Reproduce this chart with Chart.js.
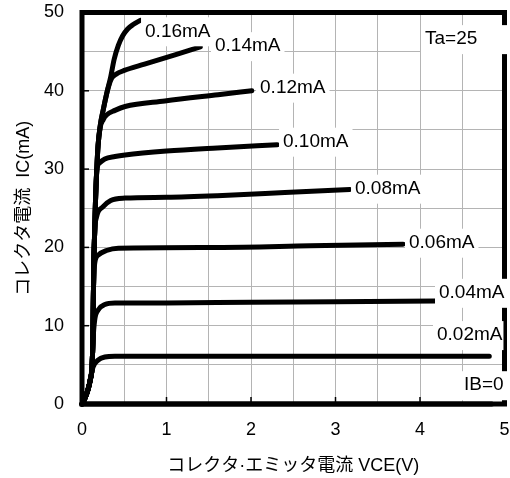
<!DOCTYPE html>
<html>
<head>
<meta charset="utf-8">
<script src="https://cdn.jsdelivr.net/npm/chart.js@4.4.1/dist/chart.umd.min.js"></script>
<style>
  html, body { margin: 0; padding: 0; background: #fff; }
  #wrap { width: 510px; height: 478px; position: relative; }
</style>
</head>
<body>
<div id="wrap"><canvas id="c" width="510" height="478"></canvas></div>
<script>
// ---- data ----
const xTitle = 'コレクタ·エミッタ電流 VCE(V)';
const yTitle = 'コレクタ電流  IC(mA)';
const seriesNames = ['IB=0', '0.02mA', '0.04mA', '0.06mA', '0.08mA', '0.10mA', '0.12mA', '0.14mA', '0.16mA'];
const xTickLabels = ['0', '1', '2', '3', '4', '5'];
const yTickLabels = ['0', '10', '20', '30', '40', '50'];
const noteText = 'Ta=25';

const vce000 = [0, 4.85];
const ic000  = [0, 0];

const vce002 = [0, 0.03, 0.07, 0.10, 0.13, 0.19, 0.27, 0.39, 1.0, 2.0, 3.0, 4.0, 4.82];
const ic002  = [0, 0.6, 1.8, 3.2, 4.7, 5.6, 6.0, 6.1, 6.1, 6.1, 6.1, 6.1, 6.1];

const vce004 = [0, 0.03, 0.07, 0.10, 0.12, 0.13, 0.15, 0.19, 0.27, 0.39, 1.0, 2.0, 3.0, 4.18];
const ic004  = [0, 0.6, 1.8, 3.2, 5.0, 8.0, 10.7, 12.0, 12.7, 12.9, 12.9, 13.0, 13.05, 13.15];

const vce006 = [0, 0.03, 0.07, 0.10, 0.12, 0.13, 0.135, 0.145, 0.19, 0.29, 0.43, 1.6, 2.7, 3.8];
const ic006  = [0, 0.6, 1.8, 3.2, 5.0, 9.0, 14.0, 17.5, 19.0, 19.6, 19.9, 20.0, 20.2, 20.4];

const vce008 = [0, 0.03, 0.07, 0.10, 0.12, 0.13, 0.135, 0.14, 0.15, 0.17, 0.25, 0.34, 0.51, 1.0, 1.6, 2.4, 3.17];
const ic008  = [0, 0.6, 1.8, 3.2, 5.0, 9.0, 14.0, 18.0, 22.0, 23.8, 25.2, 26.0, 26.3, 26.4, 26.6, 27.0, 27.4];

const vce010 = [0, 0.03, 0.07, 0.10, 0.12, 0.13, 0.135, 0.14, 0.15, 0.16, 0.175, 0.21, 0.27, 0.39, 0.51, 1.0, 1.6, 2.31];
const ic010  = [0, 0.6, 1.8, 3.2, 5.0, 9.0, 14.0, 18.0, 22.0, 26.0, 29.8, 30.8, 31.3, 31.6, 31.8, 32.3, 32.7, 33.1];

const vce012 = [0, 0.03, 0.07, 0.10, 0.12, 0.13, 0.135, 0.14, 0.15, 0.16, 0.175, 0.19, 0.215, 0.25, 0.29, 0.39, 0.51, 0.98, 1.61, 2.01];
const ic012  = [0, 0.6, 1.8, 3.2, 5.0, 9.0, 14.0, 18.0, 22.0, 26.0, 30.0, 33.0, 35.3, 36.3, 36.9, 37.5, 38.0, 38.7, 39.5, 40.0];

const vce014 = [0, 0.03, 0.07, 0.10, 0.12, 0.13, 0.135, 0.14, 0.15, 0.16, 0.175, 0.19, 0.215, 0.25, 0.30, 0.35, 0.40, 0.5, 0.74, 1.10, 1.40];
const ic014  = [0, 0.6, 1.8, 3.2, 5.0, 9.0, 14.0, 18.0, 22.0, 26.0, 30.0, 33.0, 35.5, 37.5, 40.0, 41.6, 42.1, 42.6, 43.4, 44.6, 45.6];

const vce016 = [0, 0.03, 0.07, 0.10, 0.12, 0.13, 0.135, 0.14, 0.15, 0.16, 0.175, 0.19, 0.215, 0.25, 0.30, 0.34, 0.38, 0.43, 0.48, 0.54, 0.61, 0.69];
const ic016  = [0, 0.6, 1.8, 3.2, 5.0, 9.0, 14.0, 18.0, 22.0, 26.0, 30.0, 33.0, 35.5, 37.5, 40.0, 41.8, 44.0, 45.8, 47.0, 47.9, 48.5, 49.0];

const curveX = [vce000, vce002, vce004, vce006, vce008, vce010, vce012, vce014, vce016];
const curveY = [ic000, ic002, ic004, ic006, ic008, ic010, ic012, ic014, ic016];

// ---- annotation layout (value-space anchors for the curve labels) ----
const FONT = "'Liberation Sans', Arial, 'Noto Sans CJK JP', sans-serif";
const labelSpecs = [
  { text: seriesNames[0], x: 4.521, y: 2.4,  padR: 4 },
  { text: seriesNames[1], x: 4.201, y: 8.8,  padR: 1 },
  { text: seriesNames[2], x: 4.225, y: 14.2, padR: 4 },
  { text: seriesNames[3], x: 3.870, y: 20.6, padR: 4 },
  { text: seriesNames[4], x: 3.231, y: 27.5, padR: 4 },
  { text: seriesNames[5], x: 2.379, y: 33.5, padR: 4 },
  { text: seriesNames[6], x: 2.107, y: 40.4, padR: 4 },
  { text: seriesNames[7], x: 1.574, y: 45.7, padR: 4 },
  { text: seriesNames[8], x: 0.746, y: 47.6, padR: 4 },
  { text: noteText,       x: 4.059, y: 46.6, padR: 30 }
];

const datasets = curveX.map((xs, i) => ({
  label: seriesNames[i],
  data: xs.map((v, j) => ({ x: v, y: curveY[i][j] })),
  borderColor: '#000',
  borderWidth: 5,
  pointRadius: 0,
  fill: false,
  cubicInterpolationMode: 'monotone',
  borderCapStyle: 'round',
  borderJoinStyle: 'round',
  clip: 3
}));

const framePlugin = {
  id: 'frameAndLabels',
  afterDatasetsDraw(chart) {
    const { ctx, chartArea: a, scales: { x, y } } = chart;
    ctx.save();
    ctx.strokeStyle = '#000';
    ctx.lineWidth = 1.5;
    xTickLabels.forEach(t => {
      const px = x.getPixelForValue(Number(t));
      ctx.beginPath(); ctx.moveTo(px, a.bottom); ctx.lineTo(px, a.bottom - 7); ctx.stroke();
    });
    yTickLabels.forEach(t => {
      const py = y.getPixelForValue(Number(t));
      ctx.beginPath(); ctx.moveTo(a.left, py); ctx.lineTo(a.left + 7, py); ctx.stroke();
    });
    ctx.lineWidth = 5;
    ctx.strokeRect(a.left, a.top, a.right - a.left, a.bottom - a.top);
    ctx.font = '19px ' + FONT;
    ctx.textBaseline = 'middle';
    ctx.textAlign = 'left';
    labelSpecs.forEach(s => {
      const px = x.getPixelForValue(s.x);
      const py = y.getPixelForValue(s.y);
      const w = ctx.measureText(s.text).width;
      ctx.fillStyle = '#fff';
      ctx.fillRect(px - 4, py - 14, w + 4 + s.padR, 29);
      ctx.fillStyle = '#000';
      ctx.fillText(s.text, px, py);
    });
    ctx.restore();
  }
};

new Chart(document.getElementById('c'), {
  type: 'line',
  data: { datasets },
  options: {
    responsive: false,
    devicePixelRatio: 1,
    animation: false,
    events: [],
    layout: { padding: { top: 12.5, right: 5.5, left: 0, bottom: 0 } },
    plugins: { legend: { display: false }, tooltip: { enabled: false } },
    scales: {
      x: {
        type: 'linear', min: 0, max: 5,
        afterFit(s) { s.height = 74; s.paddingLeft = 0; s.paddingRight = 0; s.paddingTop = 0; s.paddingBottom = 0; },
        border: { display: false },
        grid: { color: '#b4b4b4', lineWidth: 1, drawTicks: false },
        ticks: {
          stepSize: 0.5, autoSkip: false, maxRotation: 0, padding: 15,
          color: '#000', font: { family: FONT, size: 18 },
          callback: v => xTickLabels.includes(String(v)) ? String(v) : ''
        },
        title: { display: true, text: xTitle, color: '#000', font: { family: FONT, size: 18 }, padding: { top: 0, bottom: 1 } }
      },
      y: {
        type: 'linear', min: 0, max: 50,
        afterFit(s) { s.width = 82; s.paddingLeft = 0; s.paddingRight = 0; s.paddingTop = 0; s.paddingBottom = 0; },
        border: { display: false },
        grid: { color: '#b4b4b4', lineWidth: 1, drawTicks: false },
        ticks: {
          stepSize: 5, autoSkip: false, padding: 18,
          color: '#000', font: { family: FONT, size: 18 },
          callback: v => yTickLabels.includes(String(v)) ? String(v) : ''
        },
        title: { display: true, text: yTitle, color: '#000', font: { family: FONT, size: 18 }, padding: { top: 13, bottom: 0 } }
      }
    }
  },
  plugins: [framePlugin]
});
</script>
</body>
</html>
